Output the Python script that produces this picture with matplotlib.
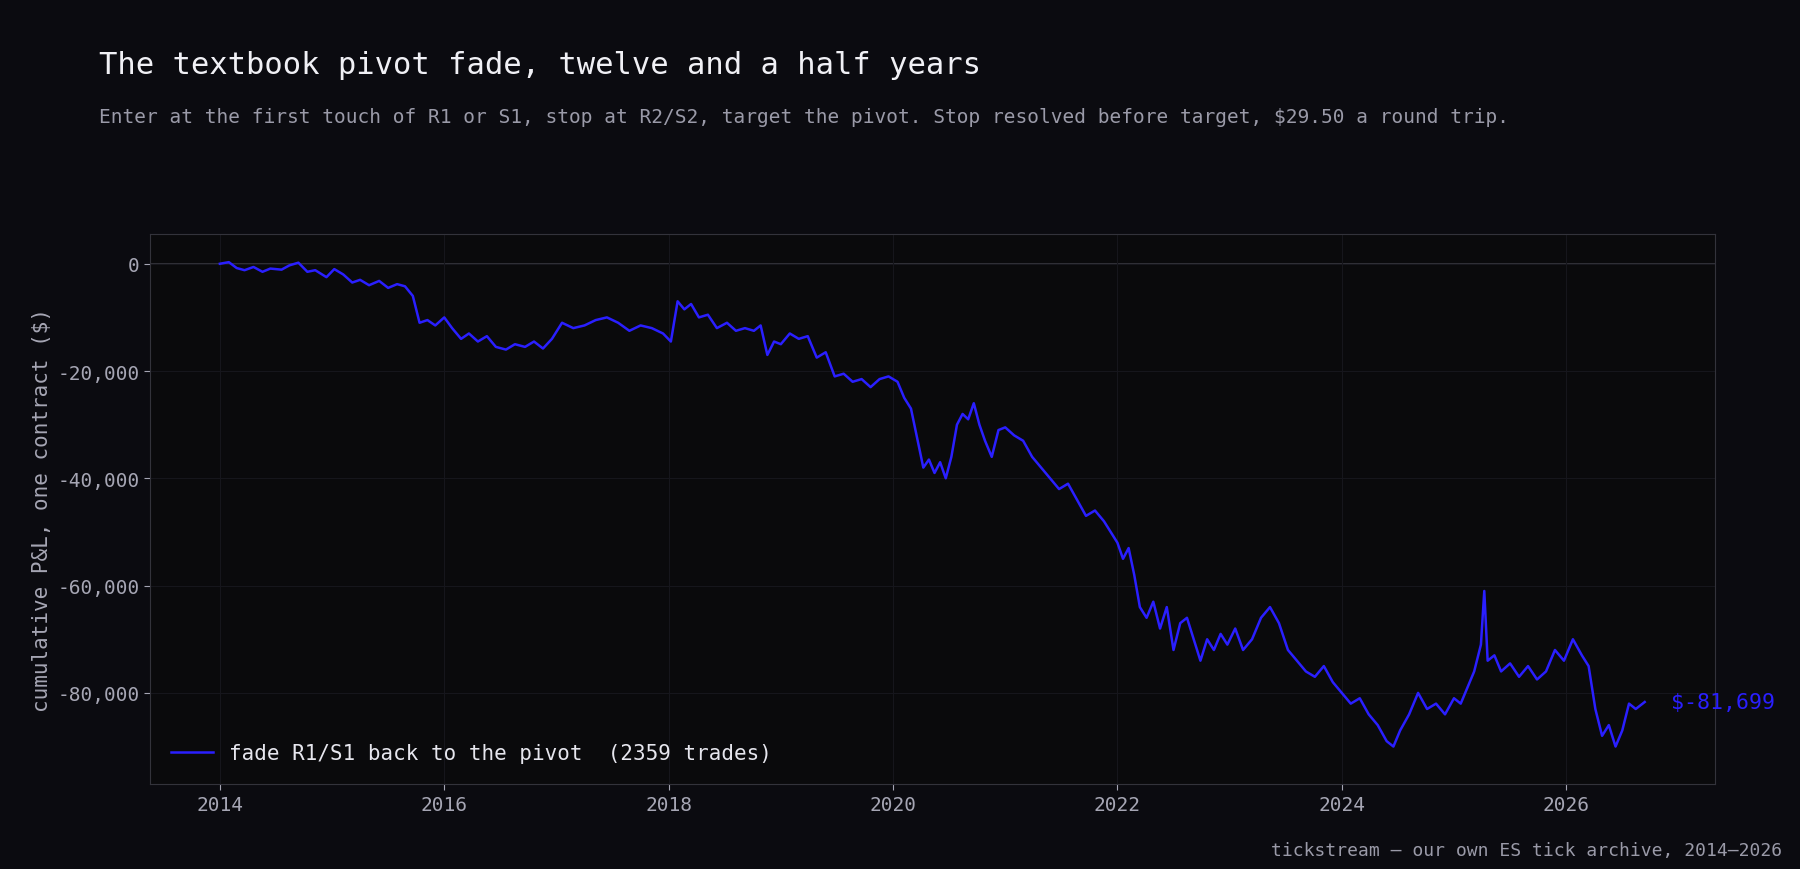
import matplotlib
matplotlib.use("Agg")
import matplotlib.pyplot as plt
import numpy as np

years = [2014.00,2014.08,2014.15,2014.22,2014.30,2014.38,2014.45,2014.55,2014.62,2014.70,2014.78,2014.85,2014.95,
 2015.02,2015.10,2015.18,2015.25,2015.33,2015.42,2015.50,2015.58,2015.65,2015.72,2015.78,2015.85,2015.92,
 2016.00,2016.07,2016.15,2016.22,2016.30,2016.38,2016.46,2016.55,2016.63,2016.72,2016.80,2016.88,2016.96,
 2017.05,2017.15,2017.25,2017.35,2017.45,2017.55,2017.65,2017.75,2017.85,2017.95,2018.02,2018.08,2018.14,
 2018.20,2018.27,2018.35,2018.43,2018.52,2018.60,2018.68,2018.76,2018.82,2018.88,2018.94,2019.00,2019.08,
 2019.16,2019.24,2019.32,2019.40,2019.48,2019.56,2019.64,2019.72,2019.80,2019.88,2019.96,2020.04,2020.10,
 2020.16,2020.22,2020.27,2020.32,2020.37,2020.42,2020.47,2020.52,2020.57,2020.62,2020.67,2020.72,2020.77,
 2020.82,2020.88,2020.94,2021.00,2021.08,2021.16,2021.24,2021.32,2021.40,2021.48,2021.56,2021.64,2021.72,
 2021.80,2021.88,2021.94,2022.00,2022.05,2022.10,2022.15,2022.20,2022.26,2022.32,2022.38,2022.44,2022.50,
 2022.56,2022.62,2022.68,2022.74,2022.80,2022.86,2022.92,2022.98,2023.05,2023.12,2023.20,2023.28,2023.36,
 2023.44,2023.52,2023.60,2023.68,2023.76,2023.84,2023.92,2024.00,2024.08,2024.16,2024.24,2024.32,2024.40,
 2024.46,2024.52,2024.60,2024.68,2024.76,2024.84,2024.92,2025.00,2025.06,2025.12,2025.18,2025.24,2025.27,
 2025.30,2025.36,2025.42,2025.50,2025.58,2025.66,2025.74,2025.82,2025.90,2025.98,2026.06,2026.14,2026.20,
 2026.26,2026.32,2026.38,2026.44,2026.50,2026.56,2026.62,2026.70]
pnl = [0,300,-800,-1200,-600,-1500,-900,-1100,-300,200,-1500,-1200,-2500,
 -1000,-2000,-3500,-3000,-4000,-3200,-4500,-3800,-4200,-6000,-11000,-10500,-11500,
 -10000,-12000,-14000,-13000,-14500,-13500,-15500,-16000,-15000,-15500,-14500,-15800,-14000,
 -11000,-12000,-11500,-10500,-10000,-11000,-12500,-11500,-12000,-13000,-14500,-7000,-8500,
 -7500,-10000,-9500,-12000,-11000,-12500,-12000,-12500,-11500,-17000,-14500,-15000,-13000,
 -14000,-13500,-17500,-16500,-21000,-20500,-22000,-21500,-23000,-21500,-21000,-22000,-25000,
 -27000,-33000,-38000,-36500,-39000,-37000,-40000,-36000,-30000,-28000,-29000,-26000,-30000,
 -33000,-36000,-31000,-30500,-32000,-33000,-36000,-38000,-40000,-42000,-41000,-44000,-47000,
 -46000,-48000,-50000,-52000,-55000,-53000,-58000,-64000,-66000,-63000,-68000,-64000,-72000,
 -67000,-66000,-70000,-74000,-70000,-72000,-69000,-71000,-68000,-72000,-70000,-66000,-64000,
 -67000,-72000,-74000,-76000,-77000,-75000,-78000,-80000,-82000,-81000,-84000,-86000,-89000,
 -90000,-87000,-84000,-80000,-83000,-82000,-84000,-81000,-82000,-79000,-76000,-71000,-61000,
 -74000,-73000,-76000,-74500,-77000,-75000,-77500,-76000,-72000,-74000,-70000,-73000,-75000,
 -83000,-88000,-86000,-90000,-87000,-82000,-83000,-81699]
label = "fade R1/S1 back to the pivot  (2359 trades)"
final_label = "$-81,699"

bg = "#0b0b10"
line_c = "#2a1fff"
mono = "DejaVu Sans Mono"
plt.rcParams['font.family'] = mono

fig = plt.figure(figsize=(18, 8.7), dpi=100, facecolor=bg)
ax = fig.add_axes([0.0835, 0.0976, 0.8695, 0.632])
ax.set_facecolor("#0a0a0c")
ax.plot(years, pnl, color=line_c, lw=1.8, label=label)
ax.axhline(0, color="#3a3a42", lw=1.2, zorder=0)
ax.set_xlim(2013.38, 2027.33)
ax.set_ylim(-97000, 5500)
ax.set_xticks(range(2014, 2027, 2))
ax.set_yticks([0, -20000, -40000, -60000, -80000])
ax.yaxis.set_major_formatter(matplotlib.ticker.FuncFormatter(lambda v, p: f"{int(v):,}"))
ax.grid(True, color="#16161c", lw=0.8)
for s in ax.spines.values():
    s.set_color("#33333b")
ax.tick_params(colors="#a6a6b4", labelsize=14, length=4)
ax.set_ylabel("cumulative P&L, one contract ($)", color="#a6a6b4", fontsize=15)
ax.text(years[-1] + 0.23, pnl[-1], final_label, color=line_c, fontsize=15.5, va="center")
leg = ax.legend(loc="lower left", frameon=False, fontsize=15, borderaxespad=0.6)
for t in leg.get_texts():
    t.set_color("#e6e6ee")
fig.text(0.055, 0.925, "The textbook pivot fade, twelve and a half years", color="#f0f0f5", fontsize=22, va="center")
fig.text(0.055, 0.865, "Enter at the first touch of R1 or S1, stop at R2/S2, target the pivot. Stop resolved before target, $29.50 a round trip.",
         color="#9a9aa8", fontsize=14, va="center")
fig.text(0.99, 0.022, "tickstream — our own ES tick archive, 2014–2026", color="#9a9aa8", fontsize=13, ha="right", va="center")
fig.savefig("out.png", dpi=100, facecolor=bg)
